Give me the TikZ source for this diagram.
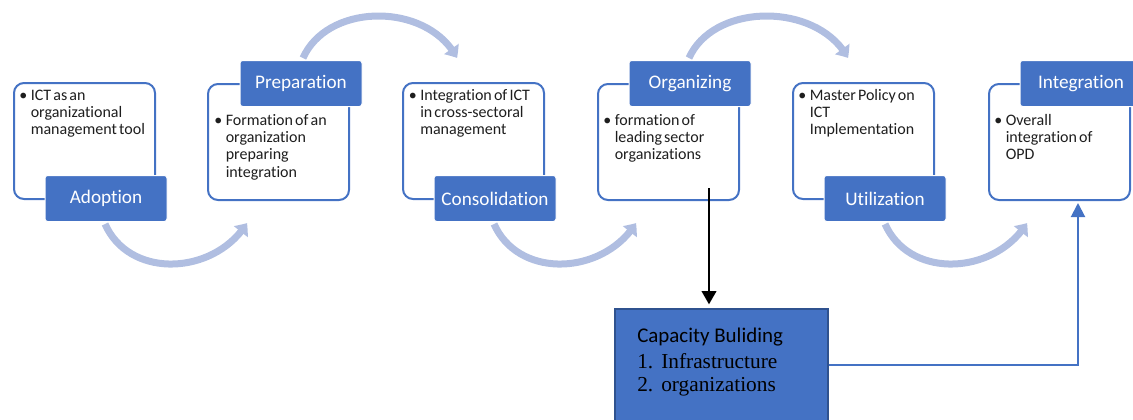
\documentclass[tikz,border=0pt]{standalone}
\usepackage{fontspec}
\setmainfont{Carlito}[Ligatures=NoCommon]
\newfontfamily\boxfont{Carlito}[Ligatures=NoCommon, WordSpace=0.6]
\newfontfamily\serifface{Liberation Serif}
\usetikzlibrary{arrows.meta,bending}
\definecolor{mainblue}{RGB}{68,114,196}
\definecolor{arcblue}{RGB}{176,190,225}
\definecolor{capedge}{RGB}{47,82,143}
\definecolor{bodytext}{RGB}{30,30,30}
\newcommand{\bul}{\llap{\textbullet\hspace{2.5pt}}}
\begin{document}
\begin{tikzpicture}[x=0.75pt,y=-0.75pt,
  stagebox/.style={draw=mainblue, line width=1.5pt, fill=white, rounded corners=7.5pt,
    minimum width=105.75pt, minimum height=87pt, anchor=north west, inner sep=0pt},
  stagelabel/.style={fill=mainblue, draw=white, line width=0.75pt, rounded corners=2pt,
    minimum width=91.5pt, minimum height=34.5pt, inner sep=0pt, text=white,
    font=\fontsize{14.4}{16}\selectfont},
  bullettext/.style={anchor=north west, inner sep=0pt, align=left, text=bodytext,
    font=\boxfont\fontsize{12}{13}\selectfont},
  arcarrow/.style={draw=arcblue, line width=5.25pt,
    -{Triangle[width=13pt,length=8pt,bend]}},
  capbox/.style={fill=mainblue, draw=capedge, line width=1pt,
    minimum width=159.75pt, minimum height=84pt, inner sep=0pt},
  captext/.style={anchor=base west, inner sep=0pt, text=black}
]
\useasboundingbox (0,0) rectangle (1133,419);

% curved flow arrows between the stages
\draw[arcarrow] (105,224) .. controls (130,280) and (215,275) .. (247,223);
\draw[arcarrow] (494,224) .. controls (519,280) and (604,275) .. (636,223);
\draw[arcarrow] (885,224) .. controls (910,280) and (995,275) .. (1027,223);
\draw[arcarrow] (303,58) .. controls (328,2) and (428,2) .. (457,58);
\draw[arcarrow] (689,58) .. controls (714,2) and (818,2) .. (848,58);

% stage boxes
\node[stagebox] (b1) at (13,82) {};
\node[stagebox] (b2) at (207,83) {};
\node[stagebox] (b3) at (402,82) {};
\node[stagebox] (b4) at (597,83) {};
\node[stagebox] (b5) at (792,82) {};
\node[stagebox] (b6) at (988,83) {};

% box contents
\node[bullettext] (t1) at (30.5,88) {\rule{0pt}{9pt}\bul ICT as an\\organizational\\management tool};
\node[bullettext] (t2) at (225.5,113) {\rule{0pt}{9pt}\bul Formation of an\\organization\\preparing\\integration};
\node[bullettext] (t3) at (420,88) {\rule{0pt}{9pt}\bul Integration of ICT\\in cross-sectoral\\management};
\node[bullettext] (t4) at (614.5,113) {\rule{0pt}{9pt}\bul formation of\\leading sector\\organizations};
\node[bullettext] (t5) at (809.5,88) {\rule{0pt}{9pt}\bul Master Policy on\\ICT\\Implementation};
\node[bullettext] (t6) at (1005.5,113) {\rule{0pt}{9pt}\bul Overall\\integration of\\OPD};

% stage labels
\node[stagelabel] (l1) at (106,198.5) {Adoption};
\node[stagelabel] (l2) at (301,83.5) {Preparation};
\node[stagelabel] (l3) at (495,198.5) {Consolidation};
\node[stagelabel] (l4) at (690,83.5) {Organizing};
\node[stagelabel] (l5) at (885,198.5) {Utilization};
\node[stagelabel] (l6) at (1081,83.5) {Integration};

% capacity building block
\node[capbox] (cap) at (721.5,365) {};
\node[captext, font=\fontsize{15.7}{18}\selectfont] (captitle) at (637,342) {Capacity Buliding};
\node[captext, font=\serifface\fontsize{16}{18}\selectfont] (capitem1) at (637,368) {\makebox[18pt][l]{1.}Infrastructure};
\node[captext, font=\serifface\fontsize{16}{18}\selectfont] (capitem2) at (637,391) {\makebox[18pt][l]{2.}organizations};

% connectors
\coordinate (orgstem) at (709,188);
\coordinate (intfoot) at (1078,199);
\draw[line width=1.5pt, black, -{Triangle[width=11pt,length=10pt]}, shorten >=3pt]
  (orgstem) -- (orgstem |- cap.north);
\draw[line width=1.5pt, mainblue, -{Triangle[width=10.5pt,length=10.5pt]}, shorten >=3pt]
  (cap.east) -| (intfoot);
\end{tikzpicture}
\end{document}
